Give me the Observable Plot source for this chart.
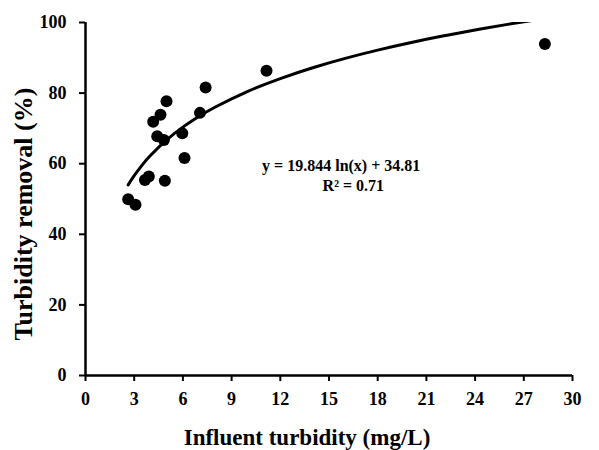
<!DOCTYPE html>
<html>
<head>
<meta charset="utf-8">
<script src="https://cdn.jsdelivr.net/npm/d3@7"></script>
<script src="https://cdn.jsdelivr.net/npm/@observablehq/plot@0.6"></script>
<style>
  body { margin: 0; background: #fff; }
  #chart svg { font-family: "Liberation Serif", "Times New Roman", serif; font-weight: bold; }
  #chart g[aria-label="x-axis tick label"] text,
  #chart g[aria-label="y-axis tick label"] text { font-size: 18px; }
</style>
</head>
<body>
<div id="chart"></div>
<script>
// Data
const influent = [2.63, 3.08, 3.66, 3.90, 4.17, 4.42, 4.62, 4.83, 4.89, 4.99, 5.96, 6.10, 7.05, 7.40, 11.15, 28.3];
const removal  = [49.9, 48.4, 55.4, 56.4, 71.9, 67.8, 73.9, 66.7, 55.2, 77.7, 68.6, 61.6, 74.4, 81.6, 86.3, 93.9];
const xTicks = [0, 3, 6, 9, 12, 15, 18, 21, 24, 27, 30];
const yTicks = [0, 20, 40, 60, 80, 100];
const xLabel = "Influent turbidity (mg/L)";
const yLabel = "Turbidity removal (%)";
// Logarithmic trendline shown on the chart: y = a ln(x) + b
const trendA = 19.844;
const trendB = 34.81;
const trendX = [2.63, 3, 3.5, 4, 5, 6, 7, 8, 10, 12, 14, 16, 18, 20, 22, 24, 26, 28.4];
const eqLines = ["y = 19.844 ln(x) + 34.81", "R² = 0.71"];
const eqX = [15.75, 16.5];
const eqY = [58.0, 52.4];

const points = influent.map((x, i) => ({x, y: removal[i]}));
const trend = trendX.map(x => ({x, y: trendA * Math.log(x) + trendB}));
const eq = eqLines.map((t, i) => ({t, x: eqX[i], y: eqY[i]}));

const chart = Plot.plot({
  width: 599,
  height: 450,
  marginLeft: 85,
  marginRight: 27,
  marginTop: 22,
  marginBottom: 75,
  x: {domain: [0, 30]},
  y: {domain: [0, 100]},
  marks: [
    Plot.axisX({ticks: xTicks, tickSize: 6, tickPadding: 11, label: null, strokeWidth: 2}),
    Plot.axisY({ticks: yTicks, tickSize: 6, tickPadding: 13, label: null, strokeWidth: 2}),
    Plot.ruleX([0], {strokeWidth: 2.5}),
    Plot.ruleY([0], {strokeWidth: 2.5}),
    Plot.line(trend, {x: "x", y: "y", stroke: "black", strokeWidth: 3, curve: "natural", clip: true}),
    Plot.dot(points, {x: "x", y: "y", r: 6, fill: "black"}),
    Plot.text(eq, {x: "x", y: "y", text: "t", fontSize: 16, fontWeight: "bold", fill: "black", lineAnchor: "bottom"}),
    Plot.text([xLabel], {frameAnchor: "bottom", lineAnchor: "bottom", textAnchor: "middle", dy: 69, dx: -22, fontSize: 23, fontWeight: "bold", fill: "black"}),
    Plot.text([yLabel], {frameAnchor: "left", textAnchor: "middle", lineAnchor: "middle", rotate: -90, dx: -62, dy: 15, fontSize: 26, fontWeight: "bold", fill: "black"})
  ]
});
document.getElementById("chart").append(chart);
</script>
</body>
</html>
